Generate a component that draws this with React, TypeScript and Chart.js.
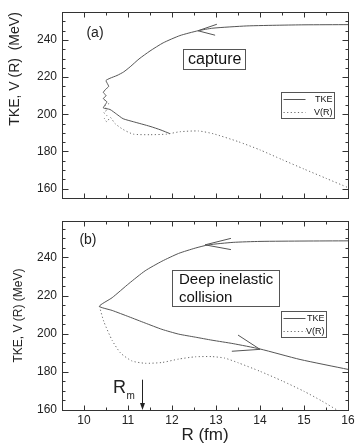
import React, { useEffect, useRef } from "react";
import { Chart, registerables } from "chart.js";

Chart.register(...registerables);

const SANS = "'Liberation Sans', Arial, Helvetica, sans-serif";
const NARROW = "'Liberation Sans Narrow', 'Liberation Sans', Arial, sans-serif";
const INK = "#222";
const CURVE = "#555";
const FRAME = "#333";

// ---- axes ----
const R_MIN = 9.5;
const R_MAX = 16;
const R_TICKS = [10, 11, 12, 13, 14, 15, 16];
const V_TICKS = [160, 180, 200, 220, 240];
const A_V_RANGE = [155, 255];
const B_V_RANGE = [160, 259];

const X_TITLE = "R (fm)";
const Y_TITLE_A = "TKE, V (R)  (MeV)";
const Y_TITLE_B = "TKE, V (R) (MeV)";
const LEGEND_LABELS = ["TKE", "V(R)"];

// ---- panel (a): capture ----
const A_TKE_R = [16.0, 15.0, 14.45, 13.7, 12.93, 12.59, 12.18, 11.8, 11.5, 11.25, 11.05, 10.9, 10.75, 10.59, 10.5, 10.53, 10.56, 10.49, 10.44, 10.5, 10.44, 10.52, 10.48, 10.44, 10.59, 10.74, 10.89, 11.12, 11.5, 11.75, 11.95];
const A_TKE_V = [248.3, 248.2, 248.0, 247.6, 246.4, 245.0, 242.4, 238.5, 234.1, 229.8, 225.6, 222.8, 220.9, 219.4, 218.2, 216.6, 215.0, 213.4, 211.7, 210.1, 208.4, 206.7, 205.1, 203.4, 202.6, 200.1, 197.6, 196.0, 193.5, 191.5, 189.6];
const A_POT_R = [10.57, 10.47, 10.53, 10.45, 10.52, 10.46, 10.52, 10.6, 10.7, 10.89, 11.12, 11.5, 11.88, 12.18, 12.6, 12.94, 13.5, 14.0, 14.5, 15.0, 15.5, 16.0];
const A_POT_V = [205.8, 204.5, 202.5, 201.0, 199.2, 197.5, 196.0, 198.3, 195.1, 191.8, 189.3, 189.0, 189.3, 190.6, 191.0, 189.5, 185.3, 180.8, 175.6, 170.5, 165.5, 160.5];

// ---- panel (b): deep inelastic collision ----
const B_TKE_R = [16.0, 15.0, 14.0, 13.39, 12.83, 12.53, 12.15, 11.77, 11.39, 11.02, 10.64, 10.35, 10.64, 11.02, 11.39, 11.77, 12.15, 12.53, 12.91, 13.39, 14.0, 14.91, 16.0];
const B_TKE_V = [248.7, 248.6, 248.4, 247.9, 246.6, 244.9, 242.1, 238.0, 233.0, 226.3, 218.9, 214.4, 212.2, 208.9, 205.6, 202.3, 199.8, 198.2, 196.6, 194.8, 192.0, 186.5, 181.3];
const B_POT_R = [10.35, 10.45, 10.64, 10.83, 11.09, 11.39, 11.77, 12.15, 12.53, 12.91, 13.2, 13.5, 14.0, 14.5, 15.0, 15.4, 15.75];
const B_POT_V = [214.4, 206.4, 196.5, 189.9, 185.7, 184.5, 184.9, 186.7, 187.9, 188.0, 187.2, 184.8, 180.3, 175.3, 169.8, 164.8, 160.0];

// ---- annotations (data units) ----
// arrow heads: [tipR, tipV, wing1R, wing1V, wing2R, wing2V]
const A_ARROW = [12.59, 245.0, 13.02, 248.5, 12.98, 242.6];
const B_ARROW_IN = [12.75, 246.6, 13.34, 250.0, 13.34, 244.1];
const B_ARROW_OUT = [14.0, 191.8, 13.5, 199.3, 13.36, 190.8];
const A_TAG = "(a)";
const B_TAG = "(b)";
const A_TAG_AT = [10.25, 243.6];
const B_TAG_AT = [10.09, 249.0];
const A_NOTE = ["capture"];
const B_NOTE = ["Deep inelastic", "collision"];
const A_NOTE_AT = [12.97, 229.6];
const B_NOTE_AT = [13.22, 224.2];
// legend box: [leftR, topV, rightR, bottomV]
const A_LEGEND_BOX = [14.48, 212.2, 15.68, 197.8];
const B_LEGEND_BOX = [14.48, 211.7, 15.5, 198.3];
const RM_LABEL = ["R", "m"];
const RM_VALUE = 11.32;
const RM_ARROW_V = [175.9, 160.0];
const RM_LABEL_AT = [10.66, 169.0];

type Pt = { x: number; y: number };
const zip = (xs: number[], ys: number[]): Pt[] => xs.map((x, i) => ({ x, y: ys[i] }));

type Spec = {
  tag: string;
  tagAt: number[];
  note: string[];
  noteAt: number[];
  noteSize: number;
  noteLineH: number;
  notePadX: number;
  notePadY: number;
  noteAlign: "center" | "left";
  legendBox: number[];
  arrows: number[][];
  rm?: boolean;
};

function decorPlugin(spec: Spec) {
  return {
    id: "panelDecor",
    afterDraw(chart: any) {
      const { ctx, chartArea: a, scales } = chart;
      const xs = scales.x;
      const ys = scales.y;
      const px = (v: number) => xs.getPixelForValue(v);
      const py = (v: number) => ys.getPixelForValue(v);
      const s = (v: number) => Math.round(v) + 0.5;
      ctx.save();

      // frame
      const L = s(a.left), Rr = s(a.right), T = s(a.top), B = s(a.bottom);
      ctx.strokeStyle = FRAME;
      ctx.lineWidth = 1;
      ctx.setLineDash([]);
      ctx.strokeRect(L, T, Rr - L, B - T);

      // inward ticks on all four sides
      const major = 5;
      const minor = 3;
      const line = (x1: number, y1: number, x2: number, y2: number) => {
        ctx.beginPath();
        ctx.moveTo(x1, y1);
        ctx.lineTo(x2, y2);
        ctx.stroke();
      };
      for (let v = R_MIN; v <= R_MAX + 1e-9; v += 0.5) {
        const isMajor = Math.abs(v - Math.round(v)) < 1e-6;
        const len = isMajor ? major : minor;
        const X = s(px(v));
        line(X, B, X, B - len);
        line(X, T, X, T + len);
      }
      const vmin = ys.min, vmax = ys.max;
      for (let v = Math.ceil(vmin / 5) * 5; v <= vmax + 1e-9; v += 5) {
        const isMajor = v % 20 === 0;
        const len = isMajor ? major + 1 : minor;
        const Y = s(py(v));
        line(L, Y, L + len, Y);
        line(Rr, Y, Rr - len, Y);
      }

      // arrow heads on trajectories
      ctx.strokeStyle = CURVE;
      spec.arrows.forEach((ar) => {
        const tx = px(ar[0]), ty = py(ar[1]);
        line(tx, ty, px(ar[2]), py(ar[3]));
        line(tx, ty, px(ar[4]), py(ar[5]));
      });

      // panel tag
      ctx.fillStyle = INK;
      ctx.font = `14px ${SANS}`;
      ctx.textAlign = "center";
      ctx.textBaseline = "middle";
      ctx.fillText(spec.tag, px(spec.tagAt[0]), py(spec.tagAt[1]));

      // note box
      ctx.font = `${spec.noteSize}px ${SANS}`;
      const widths = spec.note.map((t) => ctx.measureText(t).width);
      const bw = Math.max(...widths) + 2 * spec.notePadX;
      const bh = spec.note.length * spec.noteLineH + 2 * spec.notePadY;
      const cx = px(spec.noteAt[0]), cy = py(spec.noteAt[1]);
      const bx = Math.round(cx - bw / 2) + 0.5, by = Math.round(cy - bh / 2) + 0.5;
      ctx.fillStyle = "#fff";
      ctx.fillRect(bx, by, bw, bh);
      ctx.strokeStyle = "#555";
      ctx.strokeRect(bx, by, Math.round(bw), Math.round(bh));
      ctx.fillStyle = "#111";
      ctx.textBaseline = "middle";
      spec.note.forEach((t, i) => {
        const ly = by + spec.notePadY + spec.noteLineH * (i + 0.5);
        if (spec.noteAlign === "left") {
          ctx.textAlign = "left";
          ctx.fillText(t, bx + spec.notePadX, ly);
        } else {
          ctx.textAlign = "center";
          ctx.fillText(t, bx + bw / 2, ly + 0.5);
        }
      });

      // legend
      const lb = spec.legendBox;
      const x0 = s(px(lb[0])), y0 = s(py(lb[1])), x1 = s(px(lb[2])), y1 = s(py(lb[3]));
      ctx.fillStyle = "#fff";
      ctx.fillRect(x0, y0, x1 - x0, y1 - y0);
      ctx.strokeStyle = "#555";
      ctx.strokeRect(x0, y0, x1 - x0, y1 - y0);
      const rowH = (y1 - y0) / 2;
      ctx.font = `9px ${NARROW}`;
      ctx.textAlign = "right";
      ctx.textBaseline = "middle";
      chart.data.datasets.forEach((d: any, i: number) => {
        const ry = Math.round(y0 + rowH * (i + 0.5)) + 0.5;
        ctx.strokeStyle = d.borderColor;
        ctx.lineWidth = 1;
        ctx.setLineDash(d.borderDash || []);
        line(x0 + 2, ry, x0 + 24, ry);
        ctx.setLineDash([]);
        ctx.fillStyle = "#111";
        ctx.fillText(d.label, x1 - 2, ry);
      });

      // R_m marker
      if (spec.rm) {
        const ax = s(px(RM_VALUE));
        const ayTop = py(RM_ARROW_V[0]);
        const ayBot = py(RM_ARROW_V[1]);
        ctx.strokeStyle = "#222";
        line(ax, ayTop, ax, ayBot - 3);
        ctx.fillStyle = "#222";
        ctx.beginPath();
        ctx.moveTo(ax, ayBot);
        ctx.lineTo(ax - 2.5, ayBot - 7);
        ctx.lineTo(ax + 2.5, ayBot - 7);
        ctx.closePath();
        ctx.fill();
        ctx.textAlign = "left";
        ctx.textBaseline = "alphabetic";
        ctx.font = `18px ${SANS}`;
        const rx = px(RM_LABEL_AT[0]), ry = py(RM_LABEL_AT[1]);
        ctx.fillText(RM_LABEL[0], rx, ry);
        const rw = ctx.measureText(RM_LABEL[0]).width;
        ctx.font = `10px ${SANS}`;
        ctx.fillText(RM_LABEL[1], rx + rw + 0.5, ry + 6);
      }
      ctx.restore();
    },
  };
}

function datasets(tkeR: number[], tkeV: number[], potR: number[], potV: number[]) {
  return [
    {
      label: LEGEND_LABELS[0],
      data: zip(tkeR, tkeV),
      showLine: true,
      borderColor: CURVE,
      borderWidth: 1,
      pointRadius: 0,
      tension: 0.2,
      fill: false,
    },
    {
      label: LEGEND_LABELS[1],
      data: zip(potR, potV),
      showLine: true,
      borderColor: "#6a6a6a",
      borderWidth: 1,
      borderDash: [1.2, 2.4],
      pointRadius: 0,
      tension: 0.2,
      fill: false,
    },
  ];
}

const tickFont = { family: SANS, size: 12 };

function makeConfig(which: "a" | "b"): any {
  const isA = which === "a";
  const range = isA ? A_V_RANGE : B_V_RANGE;
  const spec: Spec = isA
    ? {
        tag: A_TAG,
        tagAt: A_TAG_AT,
        note: A_NOTE,
        noteAt: A_NOTE_AT,
        noteSize: 16,
        noteLineH: 18,
        notePadX: 4.5,
        notePadY: 1,
        noteAlign: "center",
        legendBox: A_LEGEND_BOX,
        arrows: [A_ARROW],
      }
    : {
        tag: B_TAG,
        tagAt: B_TAG_AT,
        note: B_NOTE,
        noteAt: B_NOTE_AT,
        noteSize: 15,
        noteLineH: 18,
        notePadX: 6.5,
        notePadY: 0,
        noteAlign: "left",
        legendBox: B_LEGEND_BOX,
        arrows: [B_ARROW_IN, B_ARROW_OUT],
        rm: true,
      };
  return {
    type: "scatter",
    data: {
      datasets: isA
        ? datasets(A_TKE_R, A_TKE_V, A_POT_R, A_POT_V)
        : datasets(B_TKE_R, B_TKE_V, B_POT_R, B_POT_V),
    },
    options: {
      animation: false,
      responsive: false,
      maintainAspectRatio: false,
      events: [],
      layout: { padding: isA ? { top: 8, right: 10, bottom: 1, left: 0 } : { top: 0, right: 10, bottom: 0, left: 0 } },
      plugins: { legend: { display: false }, tooltip: { enabled: false } },
      scales: {
        x: {
          type: "linear",
          position: "bottom",
          min: R_MIN,
          max: R_MAX,
          display: !isA,
          afterBuildTicks: (sc: any) => {
            sc.ticks = R_TICKS.map((v) => ({ value: v }));
          },
          afterFit: (sc: any) => {
            sc.height = isA ? 0 : 37;
          },
          grid: { display: false, drawTicks: false },
          border: { display: false },
          ticks: { padding: 3, maxRotation: 0, autoSkip: false, color: INK, font: tickFont },
          title: {
            display: !isA,
            text: X_TITLE,
            color: INK,
            font: { family: SANS, size: 17 },
            padding: { top: 0, bottom: 1 },
          },
        },
        y: {
          type: "linear",
          position: "left",
          min: range[0],
          max: range[1],
          afterBuildTicks: (sc: any) => {
            sc.ticks = V_TICKS.map((v) => ({ value: v }));
          },
          afterFit: (sc: any) => {
            sc.width = 62;
          },
          grid: { display: false, drawTicks: false },
          border: { display: false },
          ticks: { padding: 5, color: INK, font: tickFont },
          title: {
            display: true,
            text: isA ? Y_TITLE_A : Y_TITLE_B,
            align: isA ? "end" : "center",
            color: INK,
            font: { family: SANS, size: isA ? 14 : 12 },
            padding: { top: isA ? 7 : 11, bottom: 0 },
          },
        },
      },
    },
    plugins: [decorPlugin(spec)],
  };
}

function Panel({ which, top, height }: { which: "a" | "b"; top: number; height: number }) {
  const ref = useRef<HTMLCanvasElement>(null);
  useEffect(() => {
    const chart = new Chart(ref.current as HTMLCanvasElement, makeConfig(which));
    return () => chart.destroy();
  }, [which]);
  return (
    <canvas
      ref={ref}
      width={358}
      height={height}
      style={{ position: "absolute", left: 0, top, width: 358, height, display: "block" }}
    />
  );
}

export default function App() {
  return (
    <div style={{ position: "absolute", left: 0, top: 0, width: 358, height: 447, background: "#fff", overflow: "hidden" }}>
      <Panel which="a" top={0} height={210} />
      <Panel which="b" top={209} height={238} />
    </div>
  );
}
